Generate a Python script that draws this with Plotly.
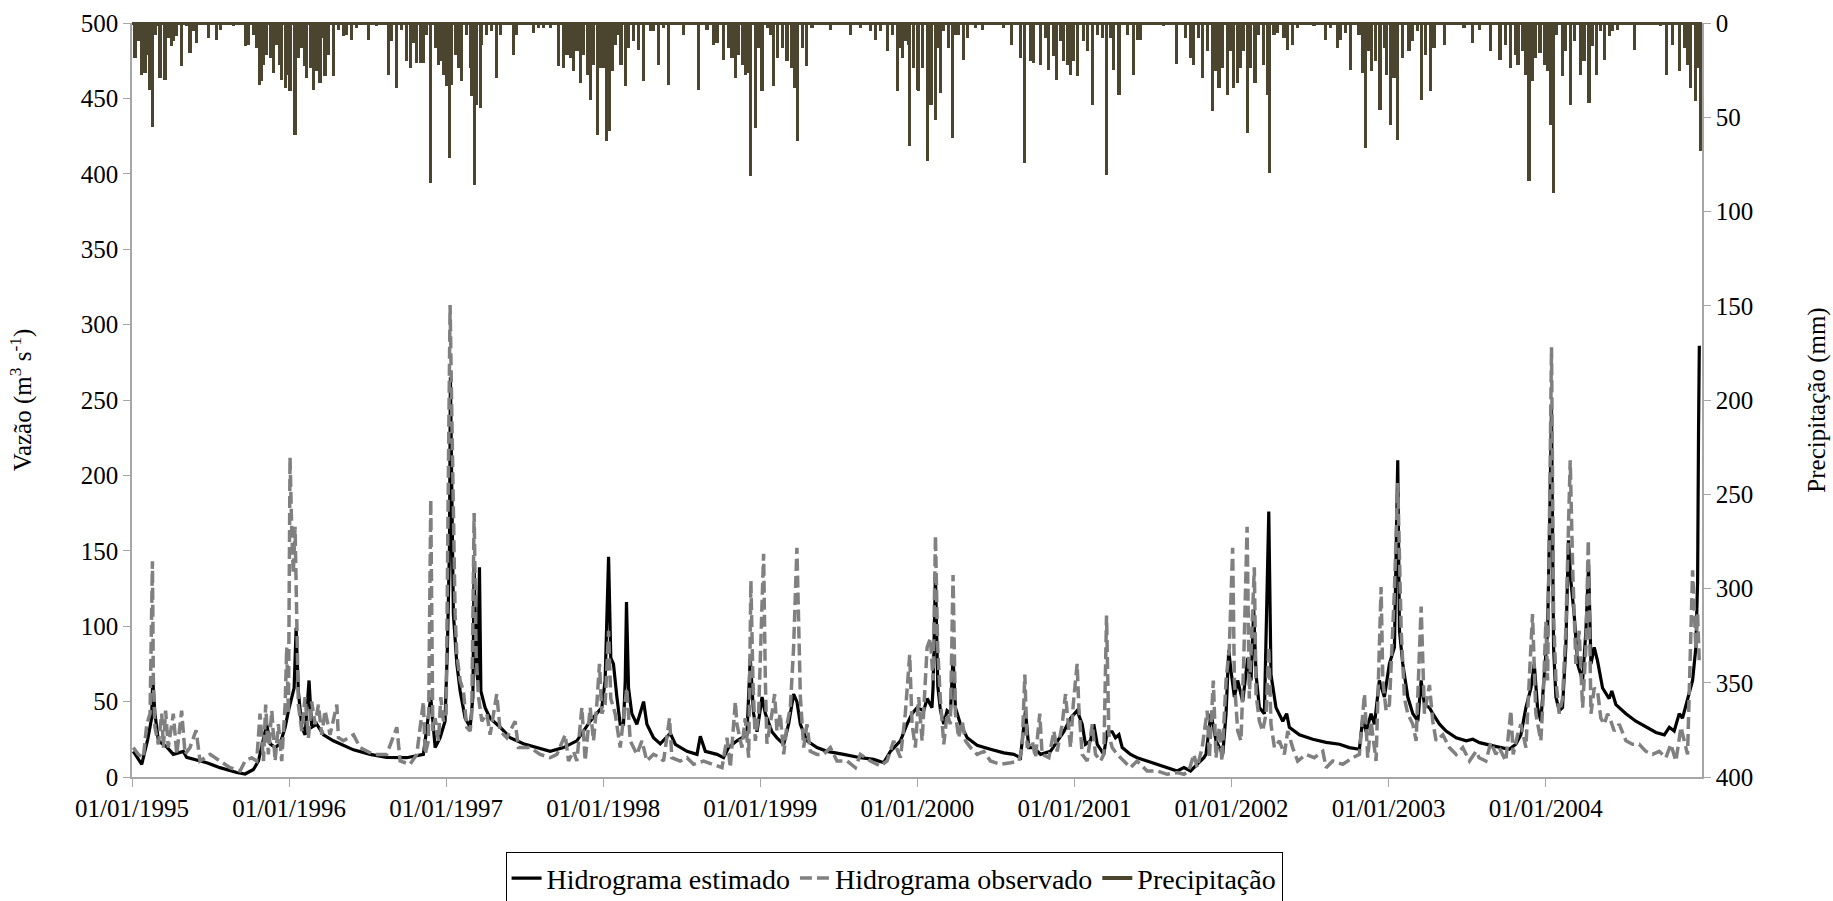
import plotly.graph_objects as go

# time in decimal years
est_t = [1995.008,1995.062,1995.100,1995.125,1995.132,1995.146,1995.168,1995.221,1995.263,1995.327,1995.348,1995.476,1995.560,1995.667,1995.720,1995.773,1995.805,1995.837,1995.858,1995.879,1995.911,1995.943,1995.975,1995.996,1996.017,1996.032,1996.045,1996.059,1996.081,1996.102,1996.127,1996.144,1996.176,1996.219,1996.282,1996.325,1996.410,1996.516,1996.622,
 1996.749,1996.855,1996.902,1996.930,1996.961,1996.993,1997.008,1997.021,1997.027,1997.036,1997.046,1997.068,1997.089,1997.121,1997.153,1997.170,1997.178,1997.191,1997.201,1997.212,1997.221,1997.248,1997.280,1997.344,1997.407,1997.492,1997.577,1997.662,1997.747,1997.832,1997.917,1997.959,1997.991,1998.012,1998.034,1998.048,1998.065,1998.087,1998.108,1998.129,1998.140,1998.148,1998.161,1998.182,1998.214,1998.257,1998.278,1998.320,1998.363,
 1998.427,1998.459,1998.533,1998.597,1998.618,1998.650,1998.724,1998.766,1998.798,1998.851,1998.915,1998.936,1998.957,1998.979,1999.011,1999.032,1999.074,1999.106,1999.149,1999.180,1999.212,1999.233,1999.255,1999.297,1999.361,1999.425,1999.531,1999.637,1999.722,1999.786,1999.828,1999.892,1999.934,1999.966,1999.998,2000.040,2000.062,2000.093,2000.100,2000.115,2000.130,
 2000.147,2000.168,2000.189,2000.210,2000.227,2000.242,2000.274,2000.317,2000.380,2000.465,2000.550,2000.614,2000.656,2000.688,2000.709,2000.741,2000.784,2000.847,2000.890,2000.932,2000.975,2001.017,2001.049,2001.070,2001.102,2001.123,2001.145,2001.187,2001.208,2001.240,2001.261,2001.283,2001.304,2001.357,2001.399,2001.463,2001.527,2001.590,2001.654,2001.697,2001.739,2001.781,2001.824,
 2001.837,2001.869,2001.901,2001.944,2001.965,2001.982,2001.997,2002.018,2002.039,2002.071,2002.103,2002.124,2002.141,2002.156,2002.177,2002.209,2002.237,2002.251,2002.283,2002.326,2002.351,2002.368,2002.432,2002.517,2002.602,2002.687,2002.750,2002.814,2002.835,2002.857,2002.888,2002.910,2002.941,2002.973,2003.005,2003.037,2003.058,2003.069,2003.090,2003.122,2003.154,2003.186,2003.207,2003.228,2003.260,2003.281,2003.324,2003.366,2003.430,2003.494,2003.536,2003.579,
 2003.651,2003.704,2003.767,2003.810,2003.842,2003.874,2003.906,2003.927,2003.948,2003.969,2003.990,2004.012,2004.026,2004.037,2004.050,2004.065,2004.086,2004.107,2004.128,2004.145,2004.160,2004.181,2004.203,2004.235,2004.256,2004.273,2004.288,2004.309,2004.330,2004.362,2004.404,2004.421,2004.447,2004.511,2004.574,2004.638,2004.702,2004.755,2004.787,2004.818,2004.850,2004.871,2004.903,2004.935,2004.956,2004.967,2004.973,2004.978]
est_q = [17,8.4,25,39,65,42,24,20,15,17,13,9.5,6.2,3,2,5,10.6,24,35,22,19.5,22,33,44,53,59,99,57,33,28,64,33,35,28,24,22,18,15,13,
 12.8,15,53,19.5,26,37,86,152,265,174,108,75,57,39,33,53,141,75,64,139,57,46,39,33,26,22,19.5,17,19.5,24,37,42,46,64,146,79,75,53,35,35,64,116,59,42,35,50,35,26,22,
 29,21.7,17,15,27,17,15,12.8,19.5,24,28,79,42,30,53,42,30,26,21.7,35,55,50,35,24,19.5,17,15,12.8,11.7,9.5,17,24,35,42,46,44,52,46,60,135,60,
 44,35,44,42,80,46,35,26,21,18.4,16,15,12.8,44,19.5,19.5,15,17,24,30,39,44,35,21.7,24,35,21.7,15,30,30,26,28,19.5,15,12.8,10.6,8.4,6.2,4,6.2,4,8.4,12.8,
 15,42,24,15,42,84,70,53,64,50,79,64,111,68,46,42,176,68,46,37,42,33,28,25,23,21.7,19.5,18.4,39,30,42,35,64,53,75,86,210,97,75,53,42,37,64,48,46,42,35,30.5,26,24,25,22.8,
 21,20,18.4,21.7,28,46,59,75,46,37,64,97,174,245,86,53,44,46,86,157,130,108,75,64,97,141,75,86,77,59,52,57,48,42,37,33,29.5,28,33,30.5,42,39,52,64,86,130,230,286]

obs_t = [1995.008,1995.040,1995.072,1995.094,1995.115,1995.130,1995.136,1995.146,1995.168,1995.189,1995.200,1995.214,1995.231,1995.263,1995.285,1995.316,1995.338,1995.369,1995.408,1995.433,1995.497,1995.560,1995.624,1995.688,1995.720,1995.762,1995.794,1995.815,1995.837,1995.851,1995.868,1995.890,1995.911,1995.932,1995.953,1995.975,1995.985,1995.996,1996.006,1996.017,1996.027,1996.038,1996.049,1996.059,1996.081,1996.102,1996.123,1996.144,1996.166,1996.187,1996.208,1996.229,1996.261,1996.304,1996.314,1996.346,1996.410,1996.452,1996.537,1996.622,1996.686,
 1996.707,1996.770,1996.813,1996.855,1996.866,1996.887,1996.902,1996.915,1996.930,1996.951,1996.966,1996.983,1997.000,1997.015,1997.025,1997.036,1997.046,1997.057,1997.068,1997.089,1997.110,1997.131,1997.153,1997.163,1997.178,1997.191,1997.206,1997.227,1997.259,1997.280,1997.322,1997.344,1997.386,1997.439,1997.460,1997.535,1997.598,1997.662,1997.705,1997.758,1997.779,1997.811,1997.832,1997.864,1997.885,1997.917,1997.938,1997.959,1997.976,1997.991,1998.012,1998.034,1998.048,1998.076,1998.108,1998.129,1998.150,1998.172,1998.214,1998.246,1998.278,1998.320,1998.363,
 1998.384,1998.422,1998.437,1998.490,1998.533,1998.575,1998.639,1998.703,1998.756,1998.788,1998.809,1998.841,1998.851,1998.883,1998.904,1998.926,1998.940,1998.953,1998.968,1998.989,1999.021,1999.032,1999.042,1999.074,1999.091,1999.106,1999.127,1999.149,1999.170,1999.191,1999.212,1999.233,1999.244,1999.255,1999.276,1999.297,1999.318,1999.361,1999.403,1999.446,1999.488,1999.552,1999.605,1999.637,1999.701,1999.764,1999.807,1999.849,1999.892,1999.923,1999.951,1999.966,1999.987,2000.008,2000.030,2000.062,2000.083,2000.100,2000.115,2000.129,2000.146,
 2000.168,2000.189,2000.210,2000.227,2000.242,2000.263,2000.285,2000.306,2000.338,2000.380,2000.423,2000.465,2000.529,2000.593,2000.646,2000.667,2000.684,2000.699,2000.731,2000.752,2000.779,2000.794,2000.837,2000.869,2000.890,2000.922,2000.943,2000.954,2000.975,2000.992,2001.017,2001.028,2001.049,2001.081,2001.113,2001.134,2001.166,2001.187,2001.204,2001.219,2001.240,2001.272,2001.314,2001.357,2001.399,2001.463,2001.527,2001.590,2001.654,2001.697,2001.728,2001.760,2001.781,2001.813,2001.845,
 2001.859,2001.884,2001.901,2001.922,2001.939,2001.965,2001.986,2002.007,2002.018,2002.039,2002.060,2002.077,2002.099,2002.113,2002.130,2002.145,2002.156,2002.177,2002.198,2002.220,2002.237,2002.251,2002.273,2002.305,2002.336,2002.358,2002.389,2002.421,2002.474,2002.527,2002.581,2002.602,2002.644,2002.708,2002.772,2002.814,2002.846,2002.867,2002.888,2002.920,2002.952,2002.963,2002.984,2003.005,2003.037,2003.058,2003.080,2003.101,2003.122,2003.154,2003.175,2003.207,2003.228,2003.260,2003.281,2003.302,2003.345,2003.387,2003.430,2003.472,2003.515,2003.557,
 2003.576,2003.619,2003.651,2003.683,2003.704,2003.746,2003.778,2003.793,2003.821,2003.842,2003.874,2003.895,2003.916,2003.937,2003.969,2003.984,2004.001,2004.012,2004.026,2004.037,2004.050,2004.065,2004.086,2004.107,2004.128,2004.156,2004.171,2004.192,2004.213,2004.235,2004.256,2004.271,2004.288,2004.309,2004.330,2004.351,2004.373,2004.394,2004.415,2004.436,2004.468,2004.511,2004.553,2004.595,2004.638,2004.680,2004.723,2004.765,2004.797,2004.829,2004.861,2004.903,2004.935,2004.946,2004.956,2004.967,2004.978]
obs_q = [19.5,15,12.8,35,42,143,64,33,21.7,42,19.5,44,19.5,42,15,44,15,19.5,31,10.6,15,10.6,6.2,4,10.6,12.8,10.6,42,10.6,48,15,44,10.6,35,10.6,48,86,42,212,163,135,166,108,48,30.5,53,26,50,35,48,28,44,28,48,26,24,28,19.5,15,15,33,
 10.6,8.4,15,50,15,24,184,30.5,39,24,53,37,42,210,313,241,168,108,81,64,57,33,30.5,42,175,81,53,37,42,28,55,30.5,26,37,19.5,19.5,15,12.8,15,28,10.6,17,10.6,46,10.6,46,24,48,75,42,48,97,52,42,19.5,42,59,24,15,24,10.6,15,12.8,
 10.6,39,12.8,10.6,12.8,8.4,10.6,8.4,6.2,26,6.2,50,35,19.5,39,12.8,130,64,24,42,148,64,22,42,55,30.5,42,15,35,46,86,152,108,53,19.5,35,17,15,15,19.5,10.6,10.6,6.2,15,10.6,7.3,10.6,24,12.8,42,81,35,19.5,53,24,86,92,64,160,86,52,
 21.7,42,35,134,42,26,37,24,19.5,15,17,10.6,8.4,9.5,10.6,19.5,68,19.5,24,12.8,42,15,12.8,30.5,17,35,55,42,19.5,48,75,46,15,10.6,35,15,10.6,15,107,28,19.5,15,10.6,6.2,10.6,4,4,1.8,2.9,1.8,4,15,6.2,19.5,44,
 12.8,64,12.8,33,10.6,64,86,152,64,30.5,24,75,166,52,97,139,55,37,30.5,42,86,35,19.5,24,15,30.5,19.5,10.6,15,12.8,17,6.2,10.6,8.4,12.8,15,55,12.8,37,10.6,126,64,44,48,124,195,97,52,42,35,24,113,42,61,37,24,28,19.5,15,19.5,10.6,17,
 12.8,10.6,23,15,19.5,10.6,44,15,28,35,19.5,66,108,42,24,53,103,64,174,285,108,64,42,52,97,210,141,75,97,46,86,157,42,59,57,39,35,42,37,30.5,35,24,21.7,21.7,17,15,17,12.8,21.7,10.6,33,15,137,108,85,108,75]

prec_t = [1995.019,1995.040,1995.062,1995.083,1995.104,1995.115,1995.130,1995.146,1995.157,1995.178,1995.210,1995.231,1995.253,1995.263,1995.285,1995.316,1995.348,1995.369,1995.391,1995.412,1995.486,1995.539,1995.561,1995.645,1995.720,1995.741,1995.773,1995.794,1995.811,1995.826,1995.837,1995.858,1995.879,1995.900,1995.921,1995.938,1995.953,1995.975,1995.996,
 1996.006,1996.038,1996.059,1996.081,1996.096,1996.113,1996.134,1996.155,1996.176,1996.197,1996.219,1996.229,1996.251,1996.282,1996.314,1996.346,1996.367,1996.399,1996.431,1996.505,1996.558,1996.633,1996.654,1996.686,1996.718,1996.749,1996.771,1996.792,1996.813,1996.834,1996.856,1996.877,1996.902,1996.930,1996.951,1996.962,1996.983,
 1997.004,1997.021,1997.036,1997.057,1997.079,1997.100,1997.132,1997.153,1997.163,1997.178,1997.195,1997.217,1997.227,1997.259,1997.291,1997.323,1997.344,1997.429,1997.450,1997.557,1997.588,1997.620,1997.663,1997.716,1997.748,1997.769,1997.790,1997.811,1997.833,1997.854,1997.875,1997.901,1997.918,1997.939,1997.964,1997.981,
 1998.002,1998.019,1998.041,1998.056,1998.077,1998.098,1998.113,1998.140,1998.162,1998.194,1998.225,1998.257,1998.300,1998.321,1998.353,1998.385,1998.416,1998.512,1998.608,1998.661,1998.703,1998.724,1998.767,1998.799,1998.820,1998.841,1998.862,1998.884,1998.905,1998.920,1998.937,1998.969,1998.990,
 1999.011,1999.043,1999.064,1999.085,1999.107,1999.139,1999.170,1999.202,1999.217,1999.234,1999.266,1999.293,1999.329,1999.446,1999.574,1999.637,1999.701,1999.733,1999.765,1999.807,1999.839,1999.871,1999.892,1999.903,1999.924,1999.945,1999.951,1999.977,1999.998,
 2000.009,2000.030,2000.062,2000.087,2000.115,2000.136,2000.147,2000.168,2000.200,2000.221,2000.242,2000.264,2000.291,2000.317,2000.370,2000.412,2000.550,2000.599,2000.656,2000.682,2000.720,2000.741,2000.784,2000.816,2000.837,2000.869,2000.886,2000.911,2000.932,2000.954,2000.975,2000.996,
 2001.017,2001.055,2001.081,2001.113,2001.145,2001.176,2001.204,2001.230,2001.251,2001.283,2001.336,2001.378,2001.400,2001.421,2001.569,2001.650,2001.707,2001.739,2001.760,2001.792,2001.814,2001.845,2001.877,2001.898,2001.920,2001.941,2001.973,2001.994,
 2002.015,2002.036,2002.057,2002.078,2002.100,2002.121,2002.149,2002.174,2002.206,2002.227,2002.244,2002.270,2002.291,2002.334,2002.355,2002.387,2002.419,2002.525,2002.599,2002.631,2002.673,2002.694,2002.726,2002.758,2002.811,2002.832,2002.854,2002.875,2002.890,2002.917,2002.945,2002.971,2002.987,
 2003.013,2003.034,2003.055,2003.087,2003.130,2003.151,2003.183,2003.210,2003.236,2003.268,2003.289,2003.353,2003.480,2003.533,2003.576,2003.650,2003.709,2003.745,2003.777,2003.809,2003.824,2003.852,2003.873,2003.894,2003.915,2003.937,2003.964,2003.990,
 2004.011,2004.028,2004.049,2004.070,2004.106,2004.128,2004.159,2004.181,2004.223,2004.244,2004.276,2004.297,2004.325,2004.350,2004.376,2004.404,2004.425,2004.457,2004.563,2004.733,2004.771,2004.807,2004.849,2004.881,2004.903,2004.924,2004.956,2004.971,2004.987]
prec_mm = [18.6,9.7,27.4,26.5,16.8,35.4,55.3,6.2,1.8,29.2,30.1,8.0,12.4,9.7,7.1,23.0,1.8,15.9,4.4,10.6,8.0,8.8,3.5,1.8,12.4,11.5,6.2,13.3,32.7,30.9,22.1,16.8,18.6,26.5,11.5,22.1,30.1,34.5,27.4,
 36.3,59.2,18.6,13.3,23.0,29.2,23.9,35.4,25.6,31.8,8.0,28.3,16.8,28.3,3.5,7.1,6.2,8.8,2.7,8.8,1.8,27.4,9.7,34.5,3.5,20.3,23.9,10.6,21.2,21.2,21.2,6.2,84.9,13.3,22.1,20.3,27.4,
 33.6,71.6,32.7,16.8,23.9,30.9,6.2,23.9,38.9,85.8,43.3,45.1,11.5,6.2,4.4,29.2,6.2,16.8,6.2,5.3,2.7,2.7,2.7,23.0,23.9,16.8,18.6,25.6,15.0,31.8,16.8,27.4,40.7,22.1,59.2,23.9,
 23.9,62.4,57.5,25.6,11.5,6.2,22.1,33.6,13.3,9.7,14.2,30.9,4.4,4.4,22.1,2.7,32.7,6.2,35.4,3.5,11.5,10.6,19.5,13.3,18.6,29.2,16.8,22.1,27.4,26.5,81.3,55.7,13.3,
 36.3,2.7,6.2,33.6,18.6,13.3,20.3,23.9,34.5,62.8,13.3,23.0,2.7,3.5,6.2,2.7,4.4,8.8,4.4,15.0,6.2,36.3,13.3,18.6,9.7,11.5,65.4,23.9,35.4,
 36.3,23.9,73.4,43.3,51.3,13.3,37.1,4.4,13.3,61.0,6.2,6.2,19.5,8.0,2.7,3.5,2.7,11.5,18.6,74.3,20.3,21.2,22.1,8.0,24.8,17.7,30.1,9.7,20.3,22.1,27.4,20.3,
 28.3,9.7,15.0,43.3,6.2,8.0,80.5,8.0,24.8,38.0,6.2,27.4,8.8,8.8,1.8,21.8,8.0,18.6,22.1,8.0,29.2,15.0,46.9,25.6,34.5,23.9,38.0,15.0,
 34.5,31.8,23.9,15.0,58.4,23.9,31.8,6.2,22.1,38.0,79.6,6.2,5.3,8.0,14.2,11.5,2.7,1.8,8.8,2.7,13.3,8.8,5.3,24.8,6.2,26.5,66.3,15.0,25.6,20.3,46.0,13.3,27.4,
 53.9,29.2,61.9,18.6,15.0,9.7,4.4,40.7,16.8,36.3,13.3,11.5,2.7,10.6,3.5,15.0,19.5,11.5,23.9,16.8,22.1,15.0,27.4,84.0,31.0,18.6,15.9,22.1,
 25.6,53.9,90.2,6.2,28.3,15.0,43.3,9.7,27.4,20.3,42.4,12.4,27.4,4.4,19.5,7.1,4.4,3.5,14.2,1.8,27.4,11.5,25.6,13.3,22.1,34.5,41.6,23.9,68.1]

year_ticks = [1995,1996,1997,1998,1999,2000,2001,2002,2003,2004]
tick_labels = ["01/01/%d" % y for y in year_ticks]

FONT = "Liberation Serif"
AX = "#A6A6A6"
PREC = "#4B452F"

fig = go.Figure()
fig.add_trace(go.Scatter(x=est_t, y=est_q, mode="lines", name="Hidrograma estimado",
                         line=dict(color="black", width=3.2)))
fig.add_trace(go.Scatter(x=obs_t, y=obs_q, mode="lines", name="Hidrograma observado",
                         line=dict(color="#808080", width=3.5, dash="12px,5px")))
fig.add_trace(go.Bar(x=prec_t, y=prec_mm, yaxis="y2", width=0.02, marker=dict(color=PREC, line=dict(width=0)),
                     showlegend=False, name="Precipitação"))
fig.add_trace(go.Scatter(x=[None], y=[None], mode="lines", name="Precipitação", yaxis="y2",
                         line=dict(color=PREC, width=4)))

fig.update_layout(
    width=1833, height=901,
    margin=dict(l=132, r=131, t=23, b=124, autoexpand=False),
    paper_bgcolor="white", plot_bgcolor="white",
    font=dict(family=FONT, size=25, color="black"),
    showlegend=True,
    bargap=0,
    xaxis=dict(range=[1995, 2004.995], tickvals=year_ticks, ticktext=tick_labels,
               showgrid=False, zeroline=False, showline=True, linecolor=AX, linewidth=1.5,
               ticks="outside", ticklen=8, tickcolor=AX, tickfont=dict(size=25)),
    yaxis=dict(range=[0, 500], dtick=50, showgrid=False, zeroline=False, showline=True,
               linecolor=AX, linewidth=1.5, ticks="outside", ticklen=7, tickcolor=AX,
               title=dict(text="Vazão (m<sup>3</sup> s<sup>-1</sup>)", standoff=42, font=dict(size=25))),
    yaxis2=dict(range=[400, 0], dtick=50, overlaying="y", side="right", showgrid=False,
                zeroline=True, zerolinecolor=PREC, zerolinewidth=3, showline=True,
                linecolor=AX, linewidth=1.5, ticks="outside", ticklen=7, tickcolor=AX,
                title=dict(text="Precipitação (mm)", standoff=55, font=dict(size=25))),
    legend=dict(orientation="h", x=0.4854, xanchor="center", y=-0.1, yanchor="top",
                bordercolor="black", borderwidth=1, bgcolor="white",
                font=dict(size=28), itemwidth=30, tracegroupgap=0),
)

fig.write_html("out.html")
